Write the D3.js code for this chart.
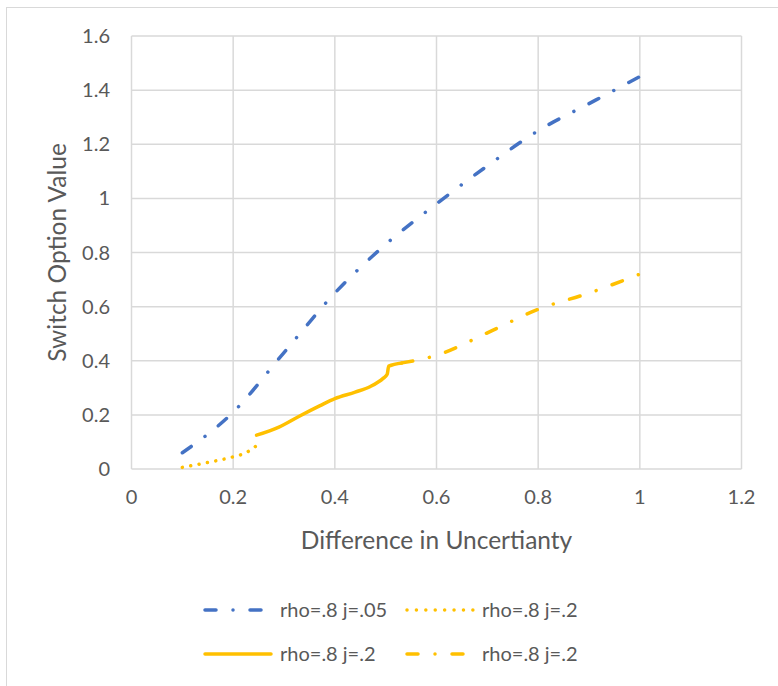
<!DOCTYPE html>
<html>
<head>
<meta charset="utf-8">
<script src="https://cdn.jsdelivr.net/npm/d3@7"></script>
<style>
  body { margin: 0; background: #fff; }
  text { font-family: Lato, "Open Sans", sans-serif; fill: #595959; }
</style>
</head>
<body>
<svg width="778" height="686"></svg>
<script>
// series: [x, y]
const blueJ05 = [[0.1, 0.06], [0.2, 0.21], [0.3, 0.43], [0.4, 0.65], [0.5, 0.83], [0.6, 0.98],
    [0.7, 1.12], [0.8, 1.25], [0.9, 1.35], [1.0, 1.45]];
const dottedJ2 = [[0.1, 0.006], [0.15, 0.024], [0.2, 0.045], [0.225, 0.06], [0.245, 0.085]];
const solidJ2 = [[0.246, 0.125], [0.29, 0.155], [0.33, 0.195], [0.37, 0.233], [0.4, 0.26],
    [0.44, 0.284], [0.47, 0.305], [0.495, 0.335], [0.503, 0.35], [0.506, 0.38], [0.532, 0.392]];
const dashDotJ2 = [[0.532, 0.392], [0.6, 0.42], [0.7, 0.503], [0.8, 0.59], [0.9, 0.65], [1.0, 0.72]];

const xTicks = [0, 0.2, 0.4, 0.6, 0.8, 1, 1.2];
const yTicks = [0, 0.2, 0.4, 0.6, 0.8, 1, 1.2, 1.4, 1.6];
const legendLabels = ['rho=.8 j=.05', 'rho=.8 j=.2', 'rho=.8 j=.2', 'rho=.8 j=.2'];

const blue = '#4472C4', gold = '#FFC000', grid = '#d9d9d9';
const dashDot = '11,17,0.01,17';

const svg = d3.select('svg');

// chart frame (only top/left visible in the picture)
svg.append('rect').attr('x', 6.5).attr('y', 7.5).attr('width', 800).attr('height', 700)
    .attr('fill', 'none').attr('stroke', grid).attr('stroke-width', 1);

const x = d3.scaleLinear().domain([0, 1.2]).range([131.5, 741.5]);
const y = d3.scaleLinear().domain([0, 1.6]).range([469, 36]);

// gridlines
svg.append('g').selectAll('line').data(yTicks).join('line')
    .attr('x1', x(0)).attr('x2', x(1.2))
    .attr('y1', d => y(d)).attr('y2', d => y(d))
    .attr('stroke', grid).attr('stroke-width', 1.5);
svg.append('g').selectAll('line').data(xTicks).join('line')
    .attr('x1', d => x(d)).attr('x2', d => x(d))
    .attr('y1', y(0)).attr('y2', y(1.6))
    .attr('stroke', grid).attr('stroke-width', 1.5);

// tick labels
svg.append('g').selectAll('text').data(yTicks).join('text')
    .attr('x', 110).attr('y', d => y(d)).attr('dy', '0.35em')
    .attr('text-anchor', 'end').style('font-size', '20px')
    .text(d => d);
svg.append('g').selectAll('text').data(xTicks).join('text')
    .attr('x', d => x(d)).attr('y', 497).attr('dy', '0.35em')
    .attr('text-anchor', 'middle').style('font-size', '20px')
    .text(d => d);

// axis titles
svg.append('text').attr('x', x(0.6)).attr('y', 540).attr('dy', '0.35em')
    .attr('text-anchor', 'middle').style('font-size', '24.5px')
    .text('Difference in Uncertianty');
svg.append('text').attr('transform', `translate(57,${(y(0) + y(1.6)) / 2}) rotate(-90)`)
    .attr('dy', '0.35em').attr('text-anchor', 'middle').style('font-size', '24.5px')
    .text('Switch Option Value');

const line = d3.line().x(d => x(d[0])).y(d => y(d[1])).curve(d3.curveMonotoneX);

const series = [
    { data: blueJ05, color: blue, dash: dashDot },
    { data: dottedJ2, color: gold, dash: '0.01,8.5' },
    { data: solidJ2, color: gold, dash: null },
    { data: dashDotJ2, color: gold, dash: dashDot },
];

svg.append('g').selectAll('path').data(series).join('path')
    .attr('d', d => line(d.data))
    .attr('fill', 'none')
    .attr('stroke', d => d.color)
    .attr('stroke-width', 3.5)
    .attr('stroke-linecap', 'round')
    .attr('stroke-linejoin', 'round')
    .attr('stroke-dasharray', d => d.dash);

// legend, 2 x 2
const legendPos = [
    { lx: 205, lx2: 261, tx: 280, ty: 610, dash: dashDot },
    { lx: 407, lx2: 473, tx: 482, ty: 610, dash: '0.01,9.4' },
    { lx: 205, lx2: 271, tx: 280, ty: 654, dash: null },
    { lx: 407, lx2: 463, tx: 482, ty: 654, dash: dashDot },
];
const leg = svg.append('g').selectAll('g').data(series).join('g');
leg.append('line')
    .attr('x1', (d, i) => legendPos[i].lx).attr('x2', (d, i) => legendPos[i].lx2)
    .attr('y1', (d, i) => legendPos[i].ty).attr('y2', (d, i) => legendPos[i].ty)
    .attr('stroke', d => d.color).attr('stroke-width', 3.5)
    .attr('stroke-linecap', 'round')
    .attr('stroke-dasharray', (d, i) => legendPos[i].dash);
leg.append('text')
    .attr('x', (d, i) => legendPos[i].tx).attr('y', (d, i) => legendPos[i].ty).attr('dy', '0.35em')
    .style('font-size', '20px')
    .text((d, i) => legendLabels[i]);
</script>
</body>
</html>
